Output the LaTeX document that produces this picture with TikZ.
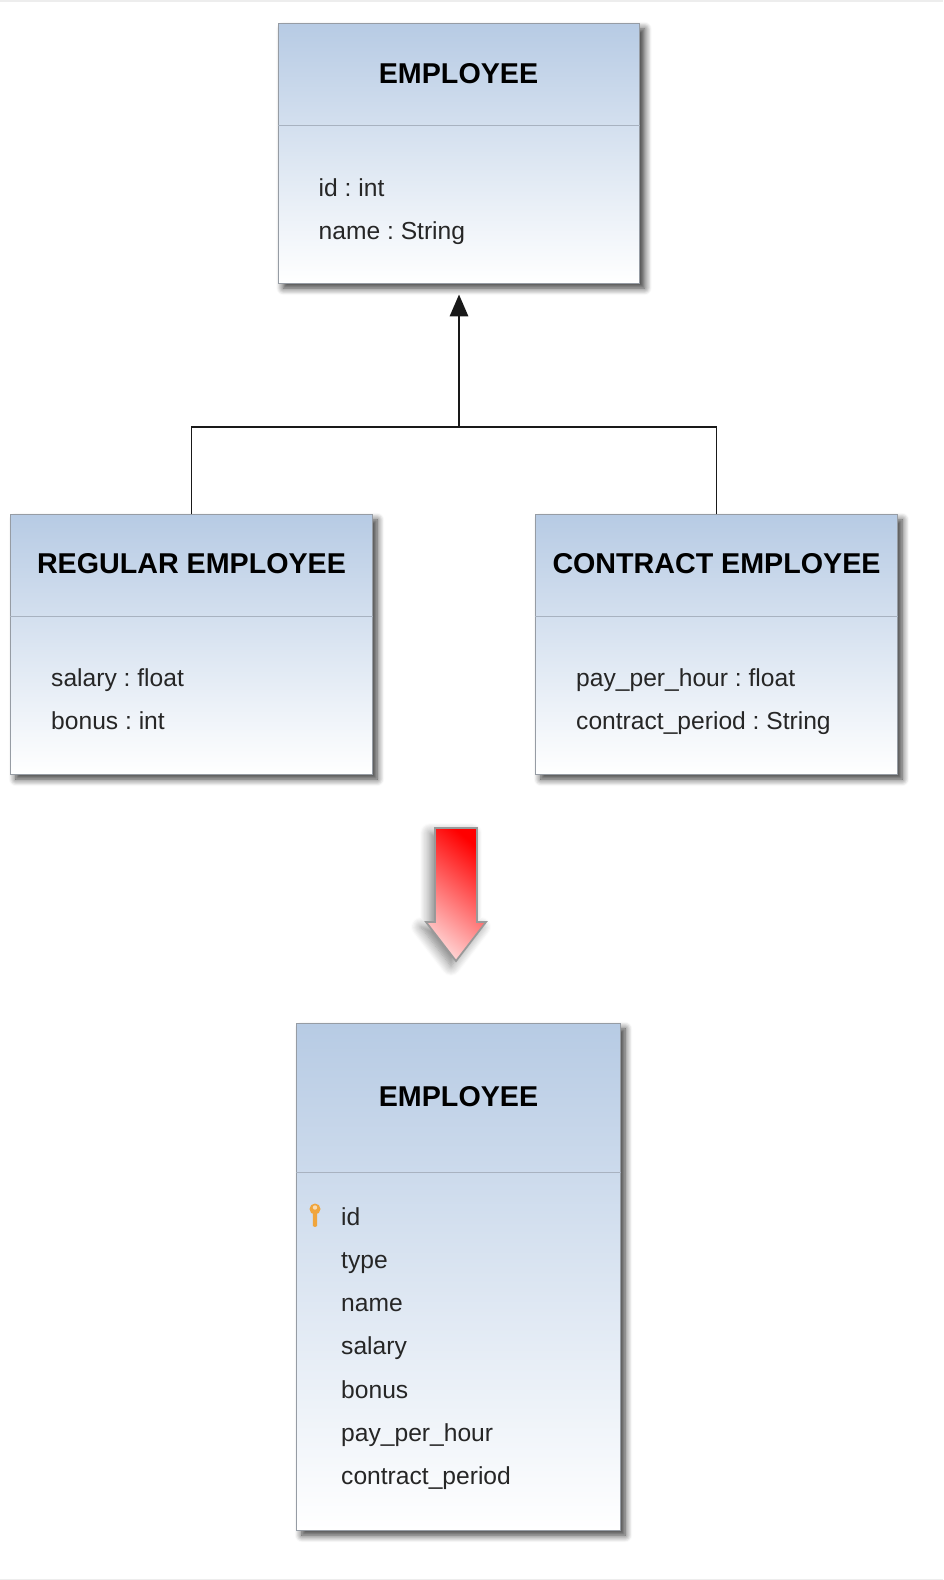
\documentclass[tikz,border=0pt]{standalone}
\usepackage{fontspec}
\setmainfont{Liberation Sans}
\usetikzlibrary{arrows.meta,shadows,shadows.blur}
\definecolor{headblue}{RGB}{183,203,228}
\definecolor{boxedge}{RGB}{150,156,164}
\definecolor{rulegray}{RGB}{168,178,192}
\definecolor{keyorange}{RGB}{240,165,60}
\tikzset{
	classbox/.style={draw=boxedge, line width=0.25pt, rectangle, inner sep=0pt, top color=headblue, bottom color=white,
		blur shadow={shadow xshift=0.05cm, shadow yshift=-0.05cm, shadow blur radius=0.07cm, shadow blur steps=8, shadow opacity=80}},
	classtitle/.style={anchor=base, inner sep=0pt, font=\fontsize{8.15}{9}\selectfont\bfseries},
	attrtext/.style={anchor=base west, inner sep=0pt, text=black!85, font=\frenchspacing\fontsize{7}{8.5}\selectfont},
	link/.style={line width=0.55pt, black!90}
}
\begin{document}
\begin{tikzpicture}[x=0.01cm, y=-0.01cm]
	\useasboundingbox (0,0) rectangle (943,1580);
	% Page edges
	\fill[black!7] (0,0) rectangle (943,2);
	\fill[black!7] (0,1578.5) rectangle (943,1580);
	% Classes
	\node[classbox, minimum width=3.61cm, minimum height=2.59cm] (employee) at (459,153.5) {};
	\node[classbox, minimum width=3.61cm, minimum height=2.59cm] (regular) at (191.5,644.5) {};
	\node[classbox, minimum width=3.61cm, minimum height=2.59cm] (contract) at (716.5,644.5) {};
	\node[classbox, minimum width=3.23cm, minimum height=5.06cm] (table) at (458.5,1277) {};
	% Dividers
	\draw[rulegray, line width=0.28pt] (employee.west |- 0,126) -- (employee.east |- 0,126);
	\draw[rulegray, line width=0.28pt] (regular.west |- 0,616) -- (regular.east |- 0,616);
	\draw[rulegray, line width=0.28pt] (contract.west |- 0,616) -- (contract.east |- 0,616);
	\draw[rulegray, line width=0.28pt] (table.west |- 0,1172) -- (table.east |- 0,1172);
	% Titles
	\node[classtitle] (employeetitle) at (458.5,83.5) {EMPLOYEE};
	\node[classtitle] (regulartitle) at (191.5,574) {REGULAR EMPLOYEE};
	\node[classtitle] (contracttitle) at (716.5,574) {CONTRACT EMPLOYEE};
	\node[classtitle] (tabletitle) at (458.5,1106) {EMPLOYEE};
	% Attributes
	\node[attrtext] (attrid) at (318,197) {id : int};
	\node[attrtext] (attrname) at (318,240) {name : String};
	\node[attrtext] (attrsalary) at (50.5,687) {salary : float};
	\node[attrtext] (attrbonus) at (50.5,730) {bonus : int};
	\node[attrtext] (attrpay) at (575.5,687) {pay\_per\_hour : float};
	\node[attrtext] (attrperiod) at (575.5,730) {contract\_period : String};
	% Columns
	\foreach \y/\col in {1225/id,1268/type,1311/name,1354/salary,1398/bonus,1441/pay\_per\_hour,1484/contract\_period}
		\node[attrtext] (col\y) at (340.5,\y) {\col};
	% Key
	\fill[keyorange] (312.8,1212) -- (317.2,1212) -- (317.2,1226) -- (315,1227) -- (312.8,1226) -- cycle;
	\fill[keyorange] (315,1209) circle (5.5);
	\fill[white!60!keyorange] (315,1207.5) circle (2.2);
	% Inheritance
	\coordinate (join) at (employee.south |- 0,427);
	\draw[link] (regular.north) |- (join);
	\draw[link] (contract.north) |- (join);
	\draw[link, -{Triangle[length=6.2pt, width=5.2pt]}, shorten >=0.11cm] (join) -- (employee.south);
	% Mapping arrow
	\path[blur shadow={shadow xshift=-0.05cm, shadow yshift=-0.05cm, shadow blur radius=0.1cm, shadow blur steps=10, shadow opacity=50}, draw=gray!80, line width=0.5pt, top color=red, bottom color=red!18, shading angle=-40]
		(435,828) -- (477,828) -- (477,922) -- (486,922) -- (456,961) -- (426,922) -- (435,922) -- cycle;
\end{tikzpicture}
\end{document}
